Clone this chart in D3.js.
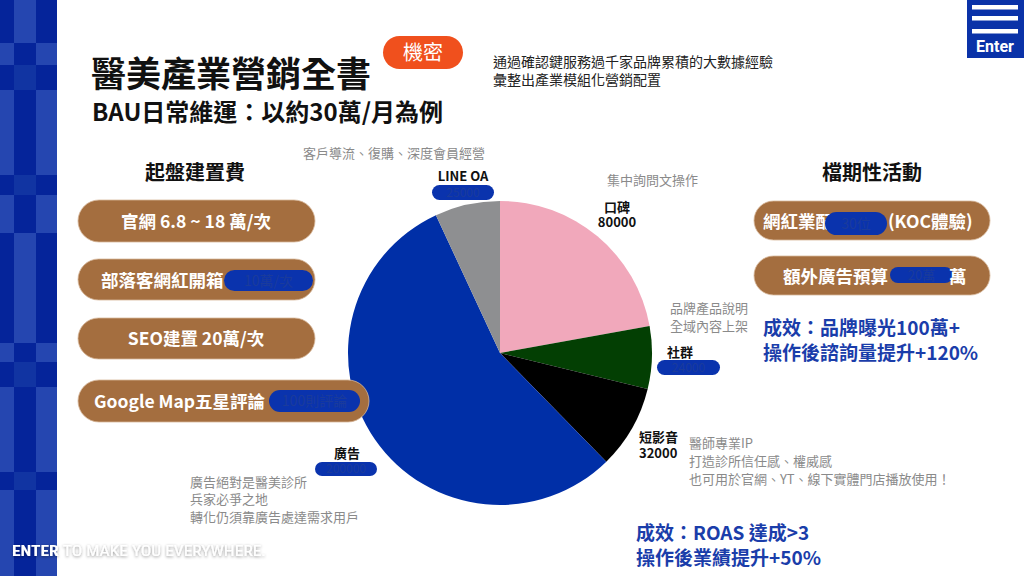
<!DOCTYPE html>
<html><head><meta charset="utf-8">
<script src="https://cdn.jsdelivr.net/npm/d3@7"></script>
<style>
html,body{margin:0;padding:0;background:#fff;}
svg{display:block;font-family:"Noto Sans CJK TC","Noto Sans",sans-serif;}
</style></head>
<body><svg id="c" width="1024" height="576"></svg>
<script>
// ---- data ----
const categories = ["口碑", "社群", "短影音", "廣告", "LINE OA"];
const values = [80000, 24000, 32000, 200000, 25000];
const colors = ["#f1a8bb", "#033f03", "#000000", "#002fa7", "#8e8f91"];
const setupItems = ["官網 6.8 ~ 18 萬/次", "部落客網紅開箱", "SEO建置 20萬/次", "Google Map五星評論"];
const campaignItems = ["網紅業配", "額外廣告預算"];

const svg = d3.select("#c");

// ---- left checker strip ----
const dark = "#05249a", light = "#2546b0", mid = "#1134a2";
const rowBreaks = [0, 43, 65, 90, 175, 195, 233, 343, 362, 387, 472, 490, 576];
const rowType = ["A","B","C","B","C","B","A","B","C","B","C","B"];
const colX = [0, 14, 36, 57];
const pat = {A:[dark, light, dark], B:[light, dark, light], C:[dark, mid, dark]};
rowType.forEach((t, i) => {
  for (let c = 0; c < 3; c++) {
    svg.append("rect").attr("x", colX[c]).attr("y", rowBreaks[i])
      .attr("width", colX[c+1]-colX[c]).attr("height", rowBreaks[i+1]-rowBreaks[i])
      .attr("fill", pat[t][c]);
  }
});

// ---- top-right logo ----
const logo = svg.append("g");
logo.append("rect").attr("x", 967).attr("y", 0).attr("width", 57).attr("height", 58).attr("fill", "#0a32a8");
[5, 16, 29].forEach(y => logo.append("rect").attr("x", 972).attr("y", y).attr("width", 46).attr("height", 4.5).attr("fill", "#fff"));
logo.append("text").attr("x", 995).attr("y", 52).attr("text-anchor", "middle")
  .attr("font-size", 16).attr("font-weight", 700).attr("fill", "#fff").attr("font-family", "Roboto, sans-serif").text("Enter");

// ---- titles ----
svg.append("text").attr("x", 91).attr("y", 87).attr("font-size", 35).attr("font-weight", 700).attr("fill", "#111").text("醫美產業營銷全書");
svg.append("text").attr("x", 92).attr("y", 121).attr("font-size", 24).attr("font-weight", 700).attr("fill", "#111").text("BAU日常維運：以約30萬/月為例");
svg.append("rect").attr("x", 383).attr("y", 36).attr("width", 80).attr("height", 33).attr("rx", 16.5).attr("fill", "#f0501d");
svg.append("text").attr("x", 423).attr("y", 60).attr("text-anchor", "middle").attr("font-size", 20).attr("fill", "#fff").text("機密");
svg.append("text").attr("x", 493).attr("y", 67).attr("font-size", 14).attr("fill", "#222").text("通過確認鍵服務過千家品牌累積的大數據經驗");
svg.append("text").attr("x", 493).attr("y", 85).attr("font-size", 14).attr("fill", "#222").text("彙整出產業模組化營銷配置");

// ---- section headers ----
svg.append("text").attr("x", 195).attr("y", 180).attr("text-anchor", "middle").attr("font-size", 20).attr("font-weight", 700).attr("fill", "#111").text("起盤建置費");
svg.append("text").attr("x", 872).attr("y", 180).attr("text-anchor", "middle").attr("font-size", 20).attr("font-weight", 700).attr("fill", "#111").text("檔期性活動");

// ---- pie ----
const cx = 500, cy = 353, R = 152;
const pie = d3.pie().sort(null).value(d => d.v);
const arc = d3.arc().innerRadius(0).outerRadius(R);
const pdata = pie(categories.map((c, i) => ({c, v: values[i], col: colors[i]})));
svg.append("g").attr("transform", `translate(${cx},${cy})`)
  .selectAll("path").data(pdata).join("path")
  .attr("d", arc).attr("fill", d => d.data.col);

// ---- brown pills ----
const brown = "#a46e3f", redact = "#0a33ad", redactTxt = "#1a3b9c";
function pill(x, y, w, h) {
  svg.append("rect").attr("x", x).attr("y", y).attr("width", w).attr("height", h).attr("rx", h/2)
    .attr("fill", brown).attr("stroke", "#d7b89a").attr("stroke-width", 0.8);
}
function redactPill(x, y, w, h, txt, fs) {
  svg.append("rect").attr("x", x).attr("y", y).attr("width", w).attr("height", h).attr("rx", h/2).attr("fill", redact);
  if (txt) svg.append("text").attr("x", x + w/2).attr("y", y + h/2 + fs*0.36).attr("text-anchor", "middle")
    .attr("font-size", fs).attr("fill", redactTxt).text(txt);
}
const wt = (x, y, t, anchor) => svg.append("text").attr("x", x).attr("y", y).attr("text-anchor", anchor || "start")
  .attr("font-size", 17.5).attr("font-weight", 700).attr("fill", "#fff").text(t);

pill(78, 200, 237, 42); wt(196, 228, setupItems[0], "middle");
pill(78, 259, 237, 41); wt(101, 287, setupItems[1]); redactPill(224, 270, 89, 21, "10萬/次", 14);
pill(78, 318, 237, 41); wt(196, 345, setupItems[2], "middle");
pill(78, 380, 291, 42); wt(94, 408, setupItems[3]); redactPill(269, 390, 91, 22, "100則評論", 14);

pill(754, 201, 236, 39); wt(763, 228, campaignItems[0]); redactPill(825, 212, 62, 23, "30位", 14);
wt(888, 228, "(KOC體驗)");
pill(754, 256, 236, 39); wt(783, 283, campaignItems[1]); redactPill(890, 267, 63, 16, "20萬", 13);
wt(949, 283, "萬");

// ---- results (blue) ----
const blueT = "#1a3daa";
const bt = (x, y, t) => svg.append("text").attr("x", x).attr("y", y).attr("font-size", 19).attr("font-weight", 700).attr("fill", blueT).text(t);
bt(763, 335, "成效：品牌曝光100萬+");
bt(763, 360, "操作後諮詢量提升+120%");
bt(636, 540, "成效：ROAS 達成>3");
bt(636, 565, "操作後業績提升+50%");

// ---- slice labels ----
const gray = "#8a8a8a";
const gt = (x, y, t) => svg.append("text").attr("x", x).attr("y", y).attr("font-size", 13).attr("fill", gray).text(t);
const kt = (x, y, t, anchor) => svg.append("text").attr("x", x).attr("y", y).attr("text-anchor", anchor || "start")
  .attr("font-size", 13).attr("font-weight", 700).attr("fill", "#111").text(t);

gt(303, 158, "客戶導流、復購、深度會員經營");
kt(463, 181, categories[4], "middle"); redactPill(432, 185, 62, 15, values[4], 12);

gt(607, 185, "集中詢問文操作");
kt(617, 212, categories[0], "middle"); kt(617, 227, String(values[0]), "middle");

gt(670, 313, "品牌產品說明");
gt(670, 331, "全域內容上架");
kt(667, 357, categories[1]); redactPill(657, 360, 63, 15, values[1], 12);

kt(639, 442, categories[2]); kt(639, 458, String(values[2]));
gt(689, 448, "醫師專業IP");
gt(689, 466, "打造診所信任感、權威感");
gt(689, 484, "也可用於官網、YT、線下實體門店播放使用！");

kt(347, 458, categories[3], "middle"); redactPill(315, 462, 62, 14, values[3], 12);
gt(190, 487, "廣告絕對是醫美診所");
gt(190, 504, "兵家必爭之地");
gt(190, 522, "轉化仍須靠廣告處達需求用戶");

// ---- bottom tagline ----
const defs = svg.append("defs");
const f = defs.append("filter").attr("id", "sh").attr("x", "-10%").attr("y", "-50%").attr("width", "120%").attr("height", "200%");
f.append("feDropShadow").attr("dx", 0).attr("dy", 1).attr("stdDeviation", 1.5).attr("flood-color", "#000").attr("flood-opacity", 0.45);
const tag = svg.append("text").attr("x", 12).attr("y", 556).attr("font-size", 14.5).attr("fill", "#fff")
  .attr("font-family", "'Roboto Condensed','Liberation Sans Narrow',Roboto,sans-serif").attr("filter", "url(#sh)")
  .attr("textLength", 254).attr("lengthAdjust", "spacingAndGlyphs");
tag.append("tspan").attr("font-weight", 700).text("ENTER ");
tag.append("tspan").attr("font-weight", 400).text("TO MAKE YOU EVERYWHERE.");
</script></body></html>
